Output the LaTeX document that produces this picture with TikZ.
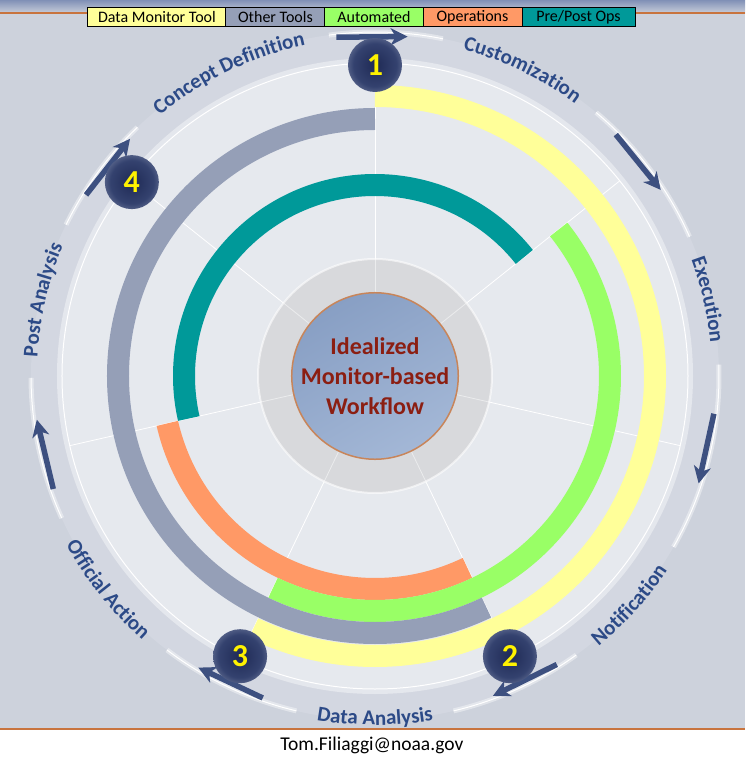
\documentclass[tikz,border=0pt]{standalone}
\usepackage{fontspec}
\setmainfont{Carlito}
\usetikzlibrary{arrows.meta,decorations.text}

\definecolor{fond}{HTML}{CDD2DC}
\definecolor{bandeA}{HTML}{8090B6}
\definecolor{couronne}{HTML}{D3D7E1}
\definecolor{disque}{HTML}{E6E9EE}
\definecolor{moyeu}{HTML}{D8D9DC}
\definecolor{centre}{HTML}{A3B7D6}
\definecolor{centrebis}{HTML}{889FC4}
\definecolor{bordure}{HTML}{C8855A}
\definecolor{lueur}{HTML}{F1EEC9}
\definecolor{titre}{HTML}{8B1E12}
\definecolor{etiq}{HTML}{2C4A87}
\definecolor{marine}{HTML}{3D5080}
\definecolor{cjaune}{HTML}{FFFF99}
\definecolor{cgris}{HTML}{959FB7}
\definecolor{cvert}{HTML}{99FF66}
\definecolor{corange}{HTML}{FF9966}
\definecolor{csarcelle}{HTML}{009999}
\definecolor{filet}{HTML}{C8743E}
\definecolor{bouleA}{HTML}{1F2A55}
\definecolor{bouleB}{HTML}{34426F}
\definecolor{bouleC}{HTML}{7E89A8}
\definecolor{bouleD}{HTML}{C9CEDA}
\definecolor{bouleE}{HTML}{DADEE6}

\pgfdeclareradialshading{boule}{\pgfpoint{0bp}{0bp}}{color(0bp)=(bouleA); color(20bp)=(bouleB); color(34bp)=(bouleC); color(43bp)=(bouleD); color(50bp)=(bouleE)}

\newcommand\etiqfont{\fontsize{21}{21}\selectfont\bfseries\color{etiq}}

\begin{document}
\begin{tikzpicture}[x=1pt, y=1pt]
	\tikzset{bande/.style={line width=22pt}, rayon/.style={white, line width=0.8pt},
		cercle/.style={white, line width=1pt, preaction={draw, white, opacity=0.4, line width=5pt}},
		fleche/.style={marine, line width=5.5pt, -{Stealth[length=17pt, width=17pt, inset=5pt]}},
		etape/.style={circle, shade, shading=boule, minimum size=54pt, inner sep=0pt, text=yellow, font=\fontsize{32}{32}\selectfont\bfseries},
		legende/.style={draw=black, line width=1pt, minimum height=19pt, inner sep=0pt, font=\fontsize{16}{16}\selectfont},
		ext/.style={decorate, decoration={text along path, text align=center, text={|\etiqfont|#1}}}};

	\useasboundingbox (-375,-384) rectangle (370,376);
	\fill[white] (-375,-384) rectangle (370,376);
	\fill[fond] (-375,-353) rectangle (370,376);
	\shade[top color=bandeA, bottom color=fond] (-375,362) rectangle (370,376);
	\draw[filet, line width=1.2pt] (-375,363) -- (370,363);
	\draw[filet, line width=1.5pt] (-375,-353) -- (370,-353);

	\fill[couronne] (0,0) circle[radius=344pt];
	\fill[white, opacity=0.4] (0,0) circle[radius=318pt];
	\fill[disque] (0,0) circle[radius=313pt];
	\draw[white, line width=1pt] (0,0) circle[radius=313pt];

	\foreach \a/\b in {-76.8/-54.2, -29.8/1.9, 23.9/50, 78.6/97.7, 133.7/153.9, 180.3/204.4, 232.8/256.8}
		\draw[cercle] (\a:344) arc[start angle=\a, end angle=\b, radius=344pt];

	\foreach \k in {0,...,6}
		\draw[rayon] ({90-\k*360/7}:117) -- ({90-\k*360/7}:313);

	\draw[bande, csarcelle] (38.57:191)  arc[start angle=38.57,  end angle=192.86,  radius=191pt];
	\draw[bande, corange]   (192.86:213) arc[start angle=192.86, end angle=295.71,  radius=213pt];
	\draw[bande, cvert]     (38.57:235)  arc[start angle=38.57,  end angle=-115.71, radius=235pt];
	\draw[bande, cgris]     (90:257)     arc[start angle=90,     end angle=295.71,  radius=257pt];
	\draw[bande, cjaune]    (90:280)     arc[start angle=90,     end angle=-115.71, radius=280pt];

	\fill[moyeu] (0,0) circle[radius=117pt];
	\draw[white, opacity=0.6, line width=2pt] (0,0) circle[radius=117pt];
	\foreach \k in {0,...,6}
		\draw[rayon, opacity=0.5] ({90-\k*360/7}:75) -- ({90-\k*360/7}:117);
	\fill[lueur] (0,0) circle[radius=78pt];
	\node[circle, minimum size=146pt, inner sep=0pt, draw=bordure, line width=1.5pt, top color=centrebis, bottom color=centre, shading angle=30,
		align=center, text=titre, font=\fontsize{24}{30}\selectfont\bfseries] (flux) at (0,0) {Idealized\\Monitor-based\\Workflow};

	\foreach \k in {0,...,6}
		\draw[fleche] ({96.5-\k*360/7}:341) -- ({84.5-\k*360/7}:341);

	\node[etape] (un)     at (90:311)      {1};
	\node[etape] (deux)   at (-64.29:311)  {2};
	\node[etape] (trois)  at (-115.71:311) {3};
	\node[etape] (quatre) at (141.43:311)  {4};

	\path[ext=Concept Definition] (140.7:338) arc[start angle=140.7, end angle=90.7,  radius=338pt];
	\path[ext=Customization]      (89.3:338)  arc[start angle=89.3,  end angle=39.3,  radius=338pt];
	\path[ext=Execution]          (37.9:337)  arc[start angle=37.9,  end angle=-12.1, radius=337pt];
	\path[ext=Notification]       (-67:351)   arc[start angle=-67,   end angle=-17,   radius=351pt];
	\path[ext=Data Analysis]      (-115:349)  arc[start angle=-115,  end angle=-65,   radius=349pt];
	\path[ext=Official Action]    (-166.4:352) arc[start angle=-166.4, end angle=-116.4, radius=352pt];
	\path[ext=Post Analysis]      (192.1:338) arc[start angle=192.1, end angle=142.1, radius=338pt];

	\node[legende, fill=cjaune,    minimum width=138pt] (lmoniteur) at (-218,358.5)  {Data Monitor Tool};
	\node[legende, fill=cgris,     minimum width=99pt]  (lautres)   at (-99.5,358.5) {Other Tools};
	\node[legende, fill=cvert,     minimum width=98pt]  (lauto)     at (-1,358.5)    {Automated};
	\node[legende, fill=corange,   minimum width=99pt]  (lops)      at (97.5,358.5)  {Operations};
	\node[legende, fill=csarcelle, minimum width=113pt] (lpre)      at (203.5,358.5) {Pre/Post Ops};

	\node[font=\fontsize{19.5}{19.5}\selectfont] (courriel) at (-3,-369) {Tom.Filiaggi@noaa.gov};
\end{tikzpicture}
\end{document}
